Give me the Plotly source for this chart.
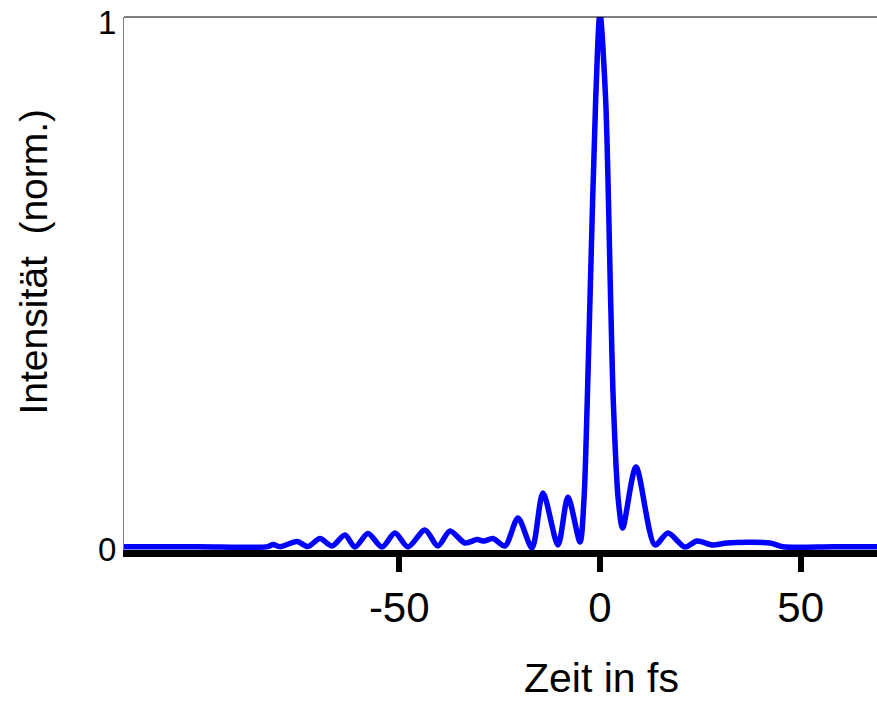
import plotly.graph_objects as go

# Time in fs and normalized intensity
zeit_fs = [-118.55, -100.0, -82.69, -81.44, -79.70, -75.47, -72.73, -69.74, -66.75, -63.51, -61.02,
           -57.78, -54.30, -51.06, -47.82, -43.59, -40.35, -37.36, -33.62, -30.63, -28.89,
           -26.65, -23.66, -20.42, -16.94, -14.20, -10.46, -7.97, -4.98, -3.99, -3.16,
           -2.49, -1.07, 0.0, 1.42, 2.66, 3.31, 4.56, 5.65, 8.97, 13.70,
           16.94, 21.17, 24.16, 28.14, 31.63, 42.34, 45.58, 58.0, 69.0]
intensitaet = [0.0044, 0.0044, 0.0044, 0.0085, 0.0044, 0.0142, 0.0047, 0.0199, 0.0057, 0.0266, 0.0038,
               0.0294, 0.0038, 0.0304, 0.0038, 0.0361, 0.0057, 0.0342, 0.0114, 0.0180, 0.0152,
               0.0199, 0.0057, 0.0588, 0.0019, 0.1063, 0.0076, 0.0987, 0.0133, 0.0930, 0.2827,
               0.4725, 0.8520, 1.0171, 0.8520, 0.4725, 0.2827, 0.0930, 0.0398, 0.1556, 0.0076,
               0.0304, 0.0038, 0.0152, 0.0076, 0.0114, 0.0114, 0.0044, 0.0044, 0.0044]

x_ticks = [-50, 0, 50]
x_tick_labels = ["-50", "0", "50"]
y_ticks = [0, 1]
y_tick_labels = ["0", "1"]

font_family = "Liberation Sans, Arial, sans-serif"

fig = go.Figure()
fig.add_trace(go.Scatter(
    x=zeit_fs, y=intensitaet, mode="lines",
    line=dict(color="#0000ff", width=5.5, shape="spline", smoothing=0.8),
    hoverinfo="skip", showlegend=False,
))

fig.update_layout(
    width=877, height=704,
    margin=dict(l=124, r=0, t=17, b=154),
    paper_bgcolor="white", plot_bgcolor="white",
    font=dict(family=font_family, color="black"),
    xaxis=dict(
        range=[-118.55, 69.0], showgrid=False, zeroline=False,
        showline=True, linecolor="black", linewidth=7,
        ticks="outside", ticklen=15, tickwidth=6, tickcolor="black",
        tickvals=x_ticks, ticktext=x_tick_labels,
        tickfont=dict(size=42, family=font_family, color="black"),
    ),
    yaxis=dict(
        range=[-0.0019, 1.0095], showgrid=False, zeroline=False,
        showline=True, linecolor="#808080", linewidth=1,
        ticks="", tickvals=y_ticks, ticktext=y_tick_labels,
        tickfont=dict(size=33, family=font_family, color="black"),
    ),
    shapes=[dict(type="line", xref="paper", yref="paper", x0=0, x1=1, y0=1, y1=1,
                 line=dict(color="black", width=1))],
    annotations=[
        dict(text="Zeit in fs", xref="paper", yref="paper", x=0.6335, y=-0.2871,
             xanchor="center", yanchor="bottom", showarrow=False,
             font=dict(size=41, family=font_family, color="black")),
        dict(text="Intensität  (norm.)", xref="paper", yref="paper", x=-0.1208, y=0.5413,
             xanchor="center", yanchor="middle", showarrow=False, textangle=-90,
             font=dict(size=39, family=font_family, color="black")),
    ],
)

fig.write_html("out.html")
